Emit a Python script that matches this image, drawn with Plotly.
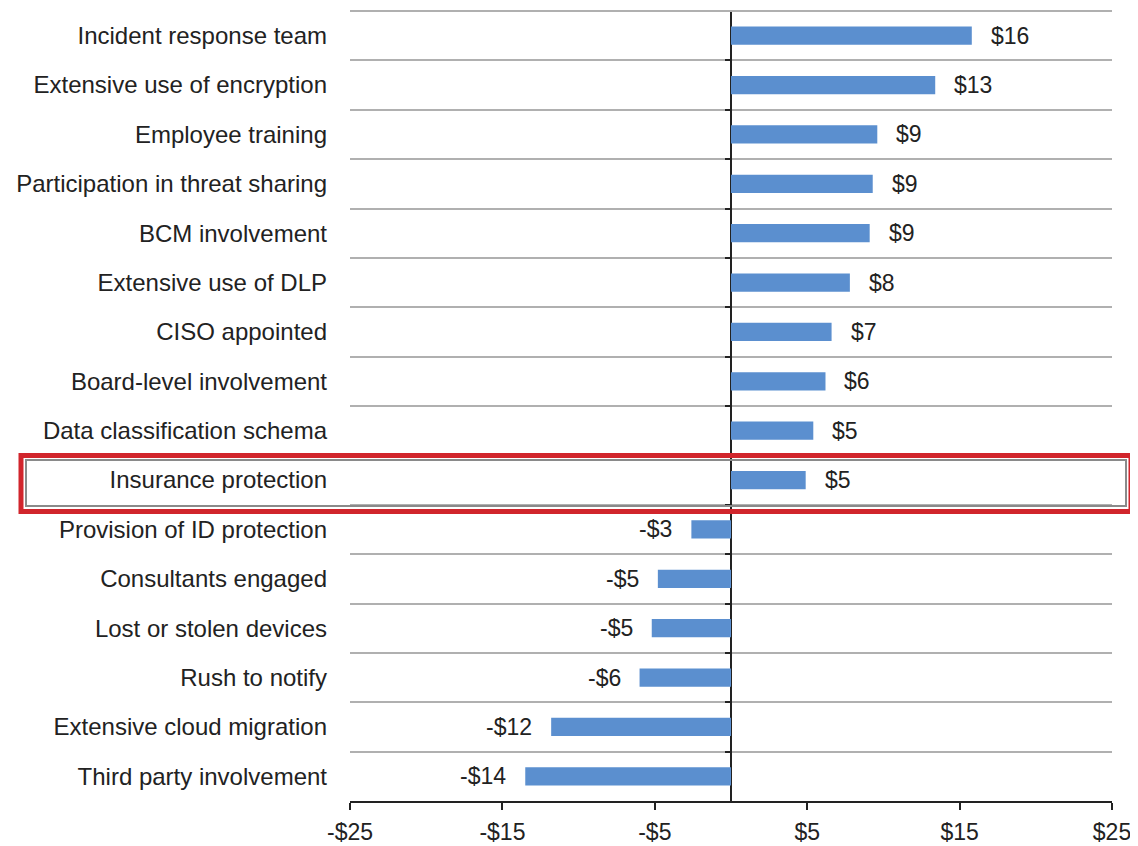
import plotly.graph_objects as go

categories = [
    "Incident response team", "Extensive use of encryption", "Employee training",
    "Participation in threat sharing", "BCM involvement", "Extensive use of DLP",
    "CISO appointed", "Board-level involvement", "Data classification schema",
    "Insurance protection", "Provision of ID protection", "Consultants engaged",
    "Lost or stolen devices", "Rush to notify", "Extensive cloud migration",
    "Third party involvement",
]
values = [15.8, 13.4, 9.6, 9.3, 9.1, 7.8, 6.6, 6.2, 5.4, 4.9,
          -2.6, -4.8, -5.2, -6.0, -11.8, -13.5]
labels = ["$16", "$13", "$9", "$9", "$9", "$8", "$7", "$6", "$5", "$5",
          "-$3", "-$5", "-$5", "-$6", "-$12", "-$14"]
tick_vals = [-25, -15, -5, 5, 15, 25]
tick_text = ["-$25", "-$15", "-$5", "$5", "$15", "$25"]
highlight = "Insurance protection"

FONT = "Liberation Sans, Arial, sans-serif"

fig = go.Figure()
fig.add_trace(go.Bar(
    x=values, y=categories, orientation="h",
    marker=dict(color="#5B8FCF", line=dict(width=0)),
    hoverinfo="x+y",
))
# invisible helper trace so the zero-position category axis (with boundary ticks) renders
fig.add_trace(go.Scatter(
    x=values, y=categories, yaxis="y2", mode="markers",
    marker=dict(opacity=0), hoverinfo="skip", showlegend=False,
))

for c, v, t in zip(categories, values, labels):
    fig.add_annotation(
        x=v, y=c, text=t, showarrow=False,
        xanchor="left" if v >= 0 else "right",
        xshift=17 if v >= 0 else -17,
        font=dict(family=FONT, size=23, color="#222222"),
    )

# figure geometry (page has an 8px body margin)
OFF = 8
W, H = 1130, 838
L, R, T, B = 342, 26, 3, 45
pw, ph = W - L - R, H - T - B

def px_x(sx):
    return (sx - OFF - L) / pw

def px_y(sy):
    return (H - B - (sy - OFF)) / ph

idx = categories.index(highlight)
row_h = ph / len(categories)
cy = OFF + T + (idx + 0.5) * row_h
y_range = [len(categories) - 0.5, -0.5]

# top border gridline
fig.add_shape(type="line", xref="paper", yref="paper", x0=0, x1=1, y0=1, y1=1,
              line=dict(color="#b0b0b0", width=2))
# highlight box
fig.add_shape(type="rect", xref="paper", yref="paper",
              x0=px_x(26), x1=px_x(1126), y0=px_y(cy - 20), y1=px_y(cy + 26),
              line=dict(color="#8a8a8a", width=2), layer="above")
fig.add_shape(type="rect", xref="paper", yref="paper",
              x0=px_x(21), x1=px_x(1131), y0=px_y(cy - 24.5), y1=px_y(cy + 31.5),
              line=dict(color="#D1252C", width=5), layer="above")

fig.update_layout(
    width=W, height=H,
    margin=dict(l=L, r=R, t=T, b=B, autoexpand=False),
    paper_bgcolor="white", plot_bgcolor="white",
    bargap=0.63, showlegend=False,
    font=dict(family=FONT, size=23, color="#222222"),
    xaxis=dict(
        range=[-25, 25], tickvals=tick_vals, ticktext=tick_text,
        showgrid=False, zeroline=True, zerolinecolor="#222222", zerolinewidth=2,
        showline=True, linecolor="#222222", linewidth=2,
        ticks="outside", ticklen=7, tickwidth=2, tickcolor="#222222",
        ticklabelstandoff=2, ticklabeloverflow="allow", automargin=False,
        tickfont=dict(size=23), fixedrange=True,
    ),
    yaxis=dict(
        categoryorder="array", categoryarray=categories, range=y_range,
        tickson="boundaries", showgrid=True, gridcolor="#b0b0b0", gridwidth=2,
        ticks="", showline=False, zeroline=False, automargin=False,
        ticklabelstandoff=22, tickfont=dict(size=24), fixedrange=True,
    ),
    yaxis2=dict(
        overlaying="y", anchor="free", position=0.5, side="left",
        categoryorder="array", categoryarray=categories, range=y_range,
        tickson="boundaries", ticks="outside", ticklen=6, tickwidth=2,
        tickcolor="#222222", showticklabels=False, showgrid=False,
        showline=False, zeroline=False, automargin=False, fixedrange=True,
    ),
)

fig.write_html("out.html")
